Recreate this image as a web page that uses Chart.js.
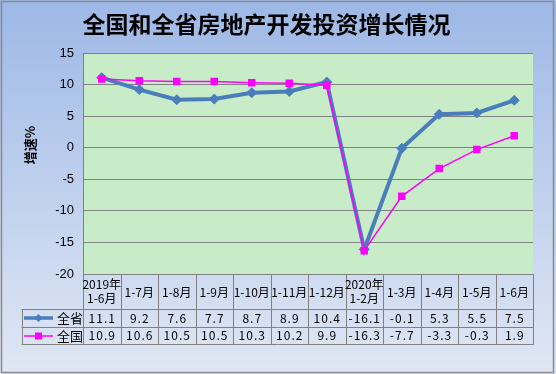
<!DOCTYPE html>
<html>
<head>
<meta charset="utf-8">
<script src="https://cdn.jsdelivr.net/npm/chart.js@4/dist/chart.umd.min.js"></script>
<style>
html,body{margin:0;padding:0;background:#fff;}
#wrap{width:556px;height:374px;}
</style>
</head>
<body>
<div id="wrap"><canvas id="c" width="556" height="374"></canvas></div>
<script>
// ---- data ----
const categories = [['2019年','1-6月'],'1-7月','1-8月','1-9月','1-10月','1-11月','1-12月',['2020年','1-2月'],'1-3月','1-4月','1-5月','1-6月'];
const seriesNames = ['全省','全国'];
const provinceValues = [11.1, 9.2, 7.6, 7.7, 8.7, 8.9, 10.4, -16.1, -0.1, 5.3, 5.5, 7.5];
const nationalValues = [10.9, 10.6, 10.5, 10.5, 10.3, 10.2, 9.9, -16.3, -7.7, -3.3, -0.3, 1.9];
const yTickValues = [-20, -15, -10, -5, 0, 5, 10, 15];
const chartTitle = '全国和全省房地产开发投资增长情况';
const yTitle = '增速%';

const BLUE = '#4A7EBB';
const MAGENTA = '#FF00FF';
const GRID = '#808080';
const CJK = '"Noto Sans CJK SC", "Noto Sans", sans-serif';

const bgPlugin = {
  id: 'bg',
  beforeDraw(chart) {
    const {ctx, width, height, chartArea} = chart;
    ctx.save();
    const g = ctx.createLinearGradient(0, 0, 0, height);
    g.addColorStop(0, '#9DB8E6');
    g.addColorStop(1, '#E0E7F4');
    ctx.fillStyle = g;
    ctx.fillRect(0, 0, width, height);
    ctx.fillStyle = '#C8ECC8';
    ctx.fillRect(chartArea.left, chartArea.top, chartArea.right - chartArea.left, chartArea.bottom - chartArea.top);
    ctx.strokeStyle = '#8A8A8A';
    ctx.lineWidth = 1.5;
    ctx.strokeRect(1.5, 1.5, width - 4, height - 3);
    ctx.restore();
  }
};

const tablePlugin = {
  id: 'table',
  afterDraw(chart) {
    const {ctx, chartArea} = chart;
    const x = chart.scales.x;
    const n = categories.length;
    const half = (x.getPixelForValue(1) - x.getPixelForValue(0)) / 2;
    const top = chartArea.bottom;
    const hBot = top + 35;
    const r1Bot = hBot + 17.5;
    const r2Bot = r1Bot + 17.5;
    const legLeft = 21.5;
    const right = x.getPixelForValue(n - 1) + half;
    ctx.save();
    ctx.strokeStyle = GRID;
    ctx.lineWidth = 1;
    const px = v => Math.round(v) + 0.5;
    ctx.beginPath();
    // horizontal lines
    [hBot, r1Bot, r2Bot].forEach(yy => { ctx.moveTo(legLeft, px(yy)); ctx.lineTo(px(right), px(yy)); });
    // vertical lines
    for (let i = 0; i <= n; i++) {
      const xx = px(x.getPixelForValue(0) - half + i * 2 * half);
      ctx.moveTo(xx, top); ctx.lineTo(xx, px(r2Bot));
    }
    ctx.moveTo(px(legLeft), px(hBot)); ctx.lineTo(px(legLeft), px(r2Bot));
    ctx.stroke();

    ctx.fillStyle = '#000';
    ctx.textAlign = 'center';
    ctx.textBaseline = 'middle';
    ctx.font = '12px ' + CJK;
    categories.forEach((c, i) => {
      const cx = x.getPixelForValue(i);
      if (Array.isArray(c)) {
        ctx.fillText(c[0], cx, top + 10.5);
        ctx.fillText(c[1], cx, top + 24.5);
      } else {
        ctx.fillText(c, cx, top + 18);
      }
    });
    const rows = [provinceValues, nationalValues];
    const rowMid = [(hBot + r1Bot) / 2 + 0.5, (r1Bot + r2Bot) / 2 + 0.5];
    ctx.font = '12px ' + CJK;
    try { ctx.letterSpacing = '1px'; } catch (e) {}
    rows.forEach((vals, r) => {
      vals.forEach((v, i) => {
        ctx.fillText(v.toFixed(1), x.getPixelForValue(i) + 0.5, rowMid[r]);
      });
    });
    try { ctx.letterSpacing = '0px'; } catch (e) {}
    // legend keys
    ctx.font = '13px ' + CJK;
    ctx.textAlign = 'left';
    rows.forEach((vals, r) => {
      const yy = Math.round(rowMid[r]) ;
      ctx.lineWidth = r === 0 ? 3.5 : 1.5;
      ctx.strokeStyle = r === 0 ? BLUE : MAGENTA;
      ctx.beginPath(); ctx.moveTo(24, yy); ctx.lineTo(53, yy); ctx.stroke();
      ctx.fillStyle = r === 0 ? BLUE : MAGENTA;
      if (r === 0) {
        ctx.beginPath(); ctx.moveTo(38.5, yy - 4); ctx.lineTo(42.5, yy); ctx.lineTo(38.5, yy + 4); ctx.lineTo(34.5, yy); ctx.closePath(); ctx.fill();
      } else {
        ctx.fillRect(35, yy - 3.5, 7, 7);
      }
      ctx.fillStyle = '#000';
      ctx.fillText(seriesNames[r], 57, rowMid[r]);
    });
    // y-axis title
    ctx.save();
    ctx.translate(30.5, 145);
    ctx.rotate(-Math.PI / 2);
    ctx.textAlign = 'center';
    ctx.font = 'bold 13px ' + CJK;
    ctx.fillText(yTitle, 0, 0);
    ctx.restore();
    ctx.restore();
  }
};

new Chart(document.getElementById('c'), {
  type: 'line',
  data: {
    labels: categories,
    datasets: [
      {
        label: seriesNames[0], data: provinceValues, order: 1,
        borderColor: BLUE, backgroundColor: BLUE, borderWidth: 4,
        pointStyle: 'rectRot', pointRadius: 5, pointBorderWidth: 1, pointBorderColor: BLUE,
        tension: 0
      },
      {
        label: seriesNames[1], data: nationalValues, order: 0,
        borderColor: MAGENTA, backgroundColor: MAGENTA, borderWidth: 1.5,
        pointStyle: 'rect', pointRadius: 5.3, pointBorderWidth: 0,
        tension: 0
      }
    ]
  },
  options: {
    responsive: false,
    animation: false,
    devicePixelRatio: 1,
    layout: { padding: { left: 0, right: 23, top: 0, bottom: 100 } },
    plugins: {
      legend: { display: false },
      tooltip: { enabled: false },
      title: {
        display: true, text: chartTitle, color: '#000',
        font: { family: CJK, size: 23, weight: 'bold', lineHeight: 1.2 },
        padding: { top: 10, bottom: 15.4 }
      }
    },
    scales: {
      x: { display: false, offset: true },
      y: {
        min: yTickValues[0], max: yTickValues[yTickValues.length - 1],
        afterFit(scale) { scale.width = 83; },
        afterBuildTicks(scale) { scale.ticks = yTickValues.map(v => ({ value: v })); },
        grid: { color: GRID, lineWidth: 1, drawTicks: false },
        border: { display: true, color: GRID, width: 1 },
        ticks: { color: '#000', padding: 9, font: { family: '"Liberation Sans", sans-serif', size: 13 } }
      }
    }
  },
  plugins: [bgPlugin, tablePlugin]
});
</script>
</body>
</html>
